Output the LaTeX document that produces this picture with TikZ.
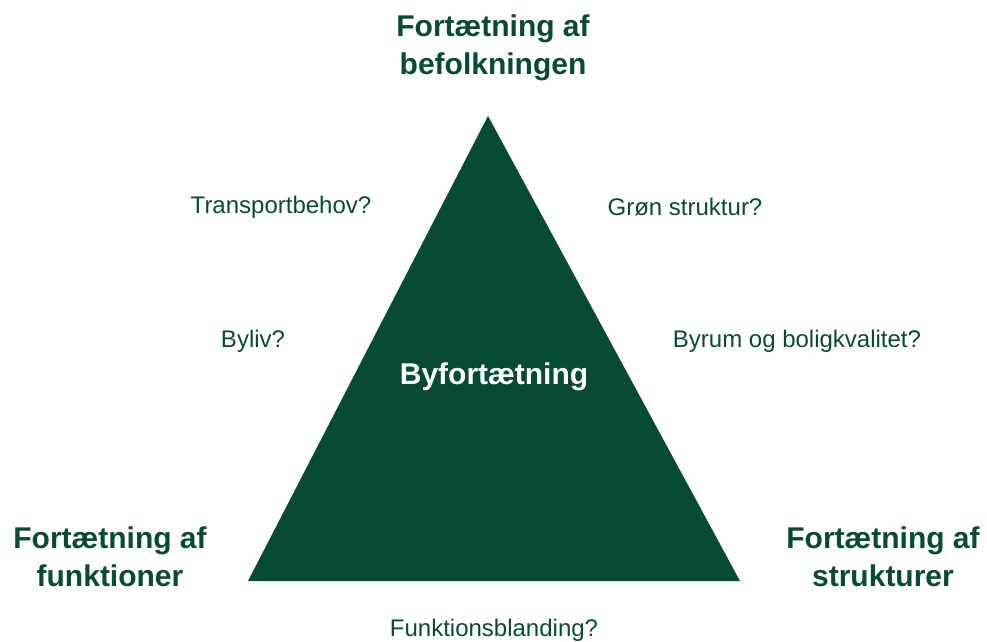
\documentclass[tikz,border=0pt]{standalone}
\usepackage{fontspec}
\setmainfont{Liberation Sans}
\definecolor{dg}{HTML}{074B33}
\begin{document}
\begin{tikzpicture}[x=1pt,y=-1pt,
  lbl/.style={text=dg,font=\fontsize{24}{28}\selectfont,inner sep=0pt},
  ttl/.style={text=dg,font=\bfseries\fontsize{30}{38}\selectfont,align=center,inner sep=0pt},
  ctr/.style={text=white,font=\bfseries\fontsize{30}{34}\selectfont,inner sep=0pt}]
\useasboundingbox (0,0) rectangle (987,641);
\coordinate (apex) at (488,116);
\coordinate (bl) at (248,581);
\coordinate (br) at (740,581);
\fill[dg] (apex) -- (br) -- (bl) -- cycle;
\node[ctr] (c) at (494,377) {Byfortætning};
\node[ttl] (t) at (493,48) {Fortætning af\\befolkningen};
\node[ttl] (l) at (110,557) {Fortætning af\\funktioner};
\node[ttl] (r) at (883,557) {Fortætning af\\strukturer};
\node[lbl] (a1) at (281,207) {Transportbehov?};
\node[lbl] (a2) at (685,207) {Grøn struktur?};
\node[lbl] (a3) at (253,341) {Byliv?};
\node[lbl] (a4) at (797,341) {Byrum og boligkvalitet?};
\node[lbl] (a5) at (494,630) {Funktionsblanding?};
\end{tikzpicture}
\end{document}
